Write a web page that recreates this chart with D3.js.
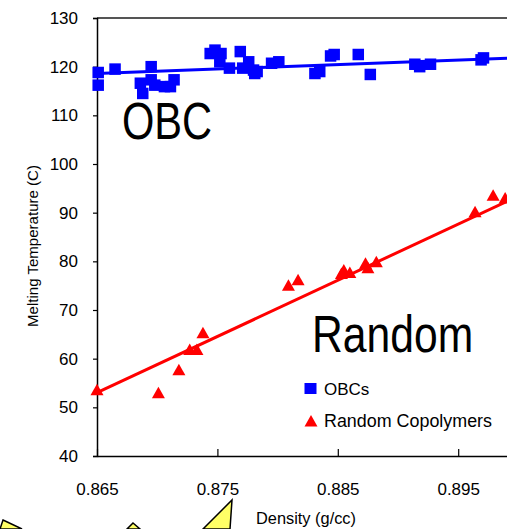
<!DOCTYPE html>
<html>
<head>
<meta charset="utf-8">
<script src="https://cdn.jsdelivr.net/npm/d3@7/dist/d3.min.js"></script>
<style>
html,body{margin:0;padding:0;background:#fff;overflow:hidden;}
text{font-family:"Liberation Sans",Arial,sans-serif;fill:#000;}
</style>
</head>
<body>
<svg id="chart" width="507" height="529"></svg>
<script>
// ---- data ----
const obcDensity = [0.8651,0.8651,0.8665,0.8695,0.8686,0.8688,0.8695,0.8698,0.8706,0.8714,0.8711,
  0.8744,0.8748,0.8753,0.8752,0.8760,0.8769,0.8771,0.8776,0.8780,0.8781,0.8783,0.8795,0.8801,
  0.8831,0.8835,0.8844,0.8847,0.8867,0.8877,0.8914,0.8918,0.8927,0.8969,0.8971];
const obcTm = [118.8,116.2,119.5,120.0,116.6,114.5,117.3,116.2,115.9,117.3,115.9,
  122.7,123.4,122.7,121.0,119.7,123.1,119.7,121.0,119.3,118.6,119.0,120.7,121.0,
  118.6,119.0,122.2,122.5,122.5,118.4,120.5,120.0,120.5,121.4,121.8];
const randDensity = [0.8650,0.8701,0.8718,0.8727,0.8733,0.8738,0.8809,0.8817,0.8855,0.8853,0.8860,
  0.8873,0.8875,0.8882,0.8964,0.8979,0.8989];
const randTm = [53.6,53.0,57.7,61.9,61.9,65.3,75.1,76.2,78.2,77.5,77.7,79.6,78.7,79.9,90.2,93.6,93.0];
// linear fits: [Tm at density 0.865, Tm at density 0.905]
const fitDensity = [0.865, 0.905];
const obcFit = [118.6, 122.25];
const randFit = [53.0, 99.2];
const xTicks = [0.865, 0.875, 0.885, 0.895];
const yTicks = [40,50,60,70,80,90,100,110,120,130];

const svg = d3.select("#chart");
const x = d3.scaleLinear().domain([0.865, 0.905]).range([97, 578.6]);
const y = d3.scaleLinear().domain([40, 130]).range([456, 18]);

// decorative yellow burst shapes at bottom
const bursts = [
  [[3,520],[22,529],[0,529]],
  [[133,523],[140,529],[127,529]],
  [[232,500],[230,529],[203,529]]
];
svg.selectAll("polygon.burst").data(bursts).enter().append("polygon")
  .attr("points", d => d.map(p => p.join(",")).join(" "))
  .attr("fill", "#ffff66").attr("stroke", "#000").attr("stroke-width", 1.5);

// top frame
svg.append("line").attr("x1", x(0.865)).attr("x2", 507).attr("y1", y(130)).attr("y2", y(130))
  .attr("stroke", "#555").attr("stroke-width", 2);

// y axis
const yAxis = svg.append("g").attr("transform", `translate(${x(0.865)},0)`)
  .call(d3.axisLeft(y).tickValues(yTicks).tickSize(4).tickPadding(15).tickFormat(d3.format("d")));
yAxis.select(".domain").attr("stroke", "#000").attr("stroke-width", 1.5);
yAxis.selectAll(".tick line").attr("stroke", "#000").attr("stroke-width", 1.2);
yAxis.selectAll("text").style("font-size", "17px").attr("font-family", "Liberation Sans");

// x axis (ticks inward)
const xAxis = svg.append("g").attr("transform", `translate(0,${y(40)})`)
  .call(d3.axisBottom(x).tickValues(xTicks).tickSizeInner(-7).tickSizeOuter(0).tickPadding(27).tickFormat(d3.format(".3f")));
xAxis.select(".domain").attr("stroke", "#000").attr("stroke-width", 1.5);
xAxis.selectAll(".tick line").attr("stroke", "#000").attr("stroke-width", 1.2);
xAxis.selectAll("text").style("font-size", "17px").attr("font-family", "Liberation Sans");

// axis titles
svg.append("text").attr("transform", "translate(38,246) rotate(-90)")
  .attr("text-anchor", "middle").style("font-size", "14.5px")
  .attr("textLength", 162).attr("lengthAdjust", "spacingAndGlyphs")
  .text("Melting Temperature (C)");
svg.append("text").attr("x", 306).attr("y", 524).attr("text-anchor", "middle")
  .style("font-size", "16.5px").attr("textLength", 100).attr("lengthAdjust", "spacingAndGlyphs")
  .text("Density (g/cc)");

// fit lines
const line = d3.line().x(d => x(d[0])).y(d => y(d[1]));
svg.append("path").datum(fitDensity.map((d, i) => [d, obcFit[i]]))
  .attr("d", line).attr("stroke", "#0000ff").attr("stroke-width", 3).attr("fill", "none");
svg.append("path").datum(fitDensity.map((d, i) => [d, randFit[i]]))
  .attr("d", line).attr("stroke", "#ff0000").attr("stroke-width", 3).attr("fill", "none");

// OBC squares
const sq = 11.5;
svg.selectAll("rect.obc").data(obcDensity.map((d, i) => [d, obcTm[i]])).enter().append("rect")
  .attr("x", d => x(d[0]) - sq / 2).attr("y", d => y(d[1]) - sq / 2)
  .attr("width", sq).attr("height", sq).attr("fill", "#0000ff");

// Random triangles
const tri = "M0,-6 L6.5,5.5 L-6.5,5.5 Z";
svg.selectAll("path.rand").data(randDensity.map((d, i) => [d, randTm[i]])).enter().append("path")
  .attr("d", tri).attr("transform", d => `translate(${x(d[0])},${y(d[1])})`).attr("fill", "#ff0000");

// big labels (horizontally condensed)
svg.append("text").attr("transform", "translate(122,139) scale(0.8,1)").style("font-size", "52px").text("OBC");
svg.append("text").attr("transform", "translate(312,352) scale(0.82,1)").style("font-size", "52px").text("Random");

// legend
svg.append("rect").attr("x", 304.5).attr("y", 383).attr("width", 12).attr("height", 11).attr("fill", "#0000ff");
svg.append("path").attr("d", tri).attr("transform", "translate(311,421)").attr("fill", "#ff0000");
svg.append("text").attr("x", 324).attr("y", 395).style("font-size", "17px").text("OBCs");
svg.append("text").attr("x", 324).attr("y", 427).style("font-size", "17.5px")
  .attr("textLength", 168).attr("lengthAdjust", "spacingAndGlyphs").text("Random Copolymers");
</script>
</body>
</html>
